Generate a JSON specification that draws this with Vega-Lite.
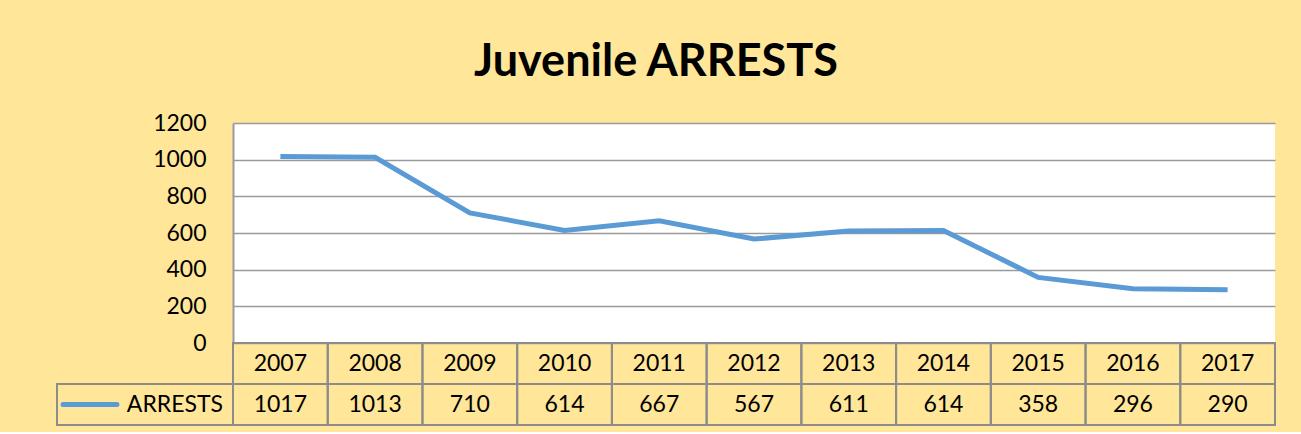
{
  "$schema": "https://vega.github.io/schema/vega-lite/v6.json",
  "background": "#FFE699",
  "padding": {"left": 53, "top": 40, "right": 26, "bottom": 6},
  "autosize": {"type": "pad"},
  "title": {"text": "Juvenile ARRESTS", "font": "Lato", "fontSize": 45, "fontWeight": "bold", "color": "black", "anchor": "start", "frame": "group", "offset": 27, "dx": 417},
  "config": {"font": "Lato", "view": {"stroke": null}, "text": {"font": "Lato", "color": "black"}},
  "datasets": {
    "arrests": [
      {"year": 2007, "arrests": 1017},
      {"year": 2008, "arrests": 1013},
      {"year": 2009, "arrests": 710},
      {"year": 2010, "arrests": 614},
      {"year": 2011, "arrests": 667},
      {"year": 2012, "arrests": 567},
      {"year": 2013, "arrests": 611},
      {"year": 2014, "arrests": 614},
      {"year": 2015, "arrests": 358},
      {"year": 2016, "arrests": 296},
      {"year": 2017, "arrests": 290}
    ],
    "legend": [{"series": "ARRESTS"}]
  },
  "columns": 2,
  "spacing": 0,
  "bounds": "flush",
  "align": "each",
  "concat": [
    {
      "width": 176, "height": 220,
      "data": {"name": "legend"},
      "mark": {"type": "text", "text": ""},
      "encoding": {}
    },
    {
      "width": 1042, "height": 220,
      "view": {"fill": "white", "stroke": null},
      "data": {"name": "arrests"},
      "mark": {"type": "line", "color": "#5B9BD5", "strokeWidth": 5},
      "encoding": {
        "x": {"field": "year", "type": "ordinal", "scale": {"type": "point", "padding": 0.5}, "axis": null},
        "y": {"field": "arrests", "type": "quantitative", "scale": {"domain": [0, 1200]},
              "axis": {"values": [0, 200, 400, 600, 800, 1000, 1200], "format": "d", "title": null, "ticks": false, "labelFontSize": 23, "labelFont": "Lato", "labelColor": "black", "labelPadding": 27, "grid": true, "gridColor": "#9a9a9a", "gridWidth": 1.5, "domainColor": "#9a9a9a", "domainWidth": 2}}
      }
    },
    {
      "width": 176, "height": 82,
      "data": {"name": "legend"},
      "layer": [
        {
          "mark": {"type": "rect", "fill": "transparent", "stroke": "#8c8c8c", "strokeWidth": 2},
          "encoding": {
            "x": {"field": "series", "type": "nominal", "scale": {"type": "band", "paddingInner": 0, "paddingOuter": 0}, "axis": null},
            "y": {"datum": "v", "type": "nominal", "scale": {"type": "band", "domain": ["h", "v"], "paddingInner": 0, "paddingOuter": 0}, "axis": null}
          }
        },
        {
          "mark": {"type": "point", "shape": "stroke", "size": 2900, "filled": false, "stroke": "#5B9BD5", "strokeWidth": 5, "strokeCap": "round", "opacity": 1, "xOffset": 33},
          "encoding": {
            "x": {"field": "series", "type": "nominal", "bandPosition": 0},
            "y": {"datum": "v", "type": "nominal"}
          }
        },
        {
          "mark": {"type": "text", "align": "right", "dx": -10, "fontSize": 23},
          "encoding": {
            "x": {"field": "series", "type": "nominal", "bandPosition": 1},
            "y": {"datum": "v", "type": "nominal"},
            "text": {"field": "series", "type": "nominal"}
          }
        }
      ]
    },
    {
      "width": 1042, "height": 82,
      "data": {"name": "arrests"},
      "layer": [
        {
          "mark": {"type": "rect", "fill": "transparent", "stroke": "#8c8c8c", "strokeWidth": 2},
          "encoding": {
            "x": {"field": "year", "type": "ordinal", "scale": {"type": "band", "paddingInner": 0, "paddingOuter": 0}, "axis": null},
            "y": {"datum": "h", "type": "nominal", "scale": {"type": "band", "domain": ["h", "v"], "paddingInner": 0, "paddingOuter": 0}, "axis": null}
          }
        },
        {
          "mark": {"type": "rect", "fill": "transparent", "stroke": "#8c8c8c", "strokeWidth": 2},
          "encoding": {
            "x": {"field": "year", "type": "ordinal"},
            "y": {"datum": "v", "type": "nominal"}
          }
        },
        {
          "mark": {"type": "text", "fontSize": 23},
          "encoding": {
            "x": {"field": "year", "type": "ordinal"},
            "y": {"datum": "h", "type": "nominal"},
            "text": {"field": "year", "type": "nominal"}
          }
        },
        {
          "mark": {"type": "text", "fontSize": 23},
          "encoding": {
            "x": {"field": "year", "type": "ordinal"},
            "y": {"datum": "v", "type": "nominal"},
            "text": {"field": "arrests", "type": "nominal"}
          }
        }
      ]
    }
  ]
}
